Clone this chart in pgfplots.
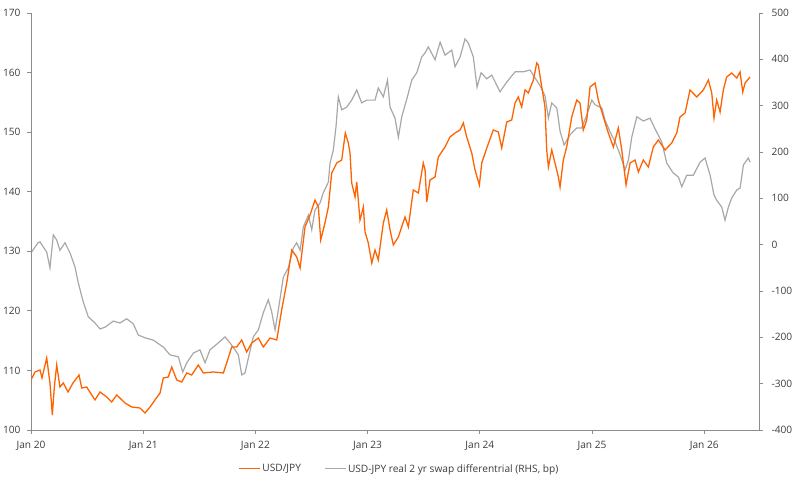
\documentclass[border=0pt]{standalone}
\usepackage{pgfplots}
\pgfplotsset{compat=1.18}
\usepackage{fontspec}
\setmainfont{Open Sans}
\usetikzlibrary{calc}
\definecolor{ingorange}{HTML}{FF6200}
\definecolor{inggray}{HTML}{A8A8A8}
\definecolor{axgray}{HTML}{8C8C8C}
\definecolor{txt}{HTML}{3C3C3C}
\begin{document}
\begin{tikzpicture}
\pgfplotsset{
  common/.style={
    scale only axis, width=728bp, height=417bp,
    xmin=2020, xmax=2026.488,
    axis line style={axgray, line width=0.8bp},
    tick style={axgray, line width=0.8bp},
    tick align=outside, major tick length=4bp,
    ticklabel style={font=\fontsize{10.2}{12}\selectfont, text=txt},
    /pgf/number format/assume math mode=true,
  }
}
% right axis: swap differential (drawn first)
\begin{axis}[common,
  ymin=-400, ymax=500,
  axis x line*=bottom, axis y line*=right,
  xtick={2020,2021,2022,2023,2024,2025,2026},
  xticklabels={Jan 20,Jan 21,Jan 22,Jan 23,Jan 24,Jan 25,Jan 26},
  ytick={-400,-300,-200,-100,0,100,200,300,400,500},
  yticklabels={-400,-300,-200,-100,0,100,200,300,400,500},
  yticklabel style={xshift=5bp},
  xticklabel style={yshift=-4bp},
]
\addplot[inggray, line width=1.2bp] coordinates {
(2020.000,-18) (2020.036,-5) (2020.062,4) (2020.080,6) (2020.110,-5) (2020.140,-16)
(2020.169,-50) (2020.199,21) (2020.229,10) (2020.258,-12) (2020.303,4) (2020.348,-18)
(2020.392,-48) (2020.422,-83) (2020.466,-124) (2020.511,-156) (2020.570,-169) (2020.615,-182)
(2020.660,-178) (2020.734,-165) (2020.793,-169) (2020.853,-160) (2020.912,-171) (2020.956,-195)
(2021.016,-201) (2021.090,-206) (2021.179,-221) (2021.239,-238) (2021.313,-242) (2021.352,-275)
(2021.388,-255) (2021.447,-234) (2021.506,-227) (2021.551,-255) (2021.595,-227) (2021.669,-212)
(2021.729,-199) (2021.774,-212) (2021.818,-227) (2021.848,-238) (2021.878,-281) (2021.907,-277)
(2021.937,-245) (2021.981,-199) (2022.026,-184) (2022.070,-147) (2022.115,-119) (2022.145,-145)
(2022.175,-184) (2022.204,-141) (2022.249,-70) (2022.293,-50) (2022.338,-7) (2022.368,4)
(2022.398,-12) (2022.427,38) (2022.472,64) (2022.502,32) (2022.531,75) (2022.576,90)
(2022.605,112) (2022.650,135) (2022.665,176) (2022.694,204) (2022.718,254) (2022.739,319)
(2022.769,291) (2022.814,297) (2022.858,312) (2022.903,334) (2022.947,306) (2022.992,312)
(2023.021,312) (2023.066,312) (2023.095,338) (2023.140,319) (2023.177,355) (2023.200,297)
(2023.244,273) (2023.274,232) (2023.304,276) (2023.349,314) (2023.393,355) (2023.438,371)
(2023.482,405) (2023.512,414) (2023.541,427) (2023.601,399) (2023.646,437) (2023.690,409)
(2023.750,420) (2023.779,384) (2023.824,405) (2023.868,444) (2023.898,435) (2023.942,405)
(2023.975,340) (2024.011,371) (2024.062,358) (2024.106,366) (2024.180,330) (2024.240,351)
(2024.314,373) (2024.388,373) (2024.447,377) (2024.492,360) (2024.537,343) (2024.581,321)
(2024.611,273) (2024.641,306) (2024.686,295) (2024.715,245) (2024.751,215) (2024.804,237)
(2024.864,252) (2024.908,252) (2024.953,280) (2024.998,312) (2025.027,302) (2025.087,295)
(2025.116,269) (2025.161,243) (2025.206,222) (2025.250,194) (2025.295,161) (2025.324,183)
(2025.354,232) (2025.399,276) (2025.457,267) (2025.517,273) (2025.561,250) (2025.621,222)
(2025.666,176) (2025.722,155) (2025.770,146) (2025.800,125) (2025.844,150) (2025.903,150)
(2025.963,178) (2026.007,187) (2026.052,150) (2026.087,107) (2026.111,96) (2026.156,81)
(2026.185,53) (2026.215,81) (2026.245,101) (2026.290,118) (2026.319,122) (2026.349,172)
(2026.393,187) (2026.408,178)
};
\coordinate (sw) at (rel axis cs:0,0);
\coordinate (ne) at (rel axis cs:1,1);
\end{axis}
% left axis: USD/JPY
\begin{axis}[common,
  ymin=100, ymax=170,
  axis x line=none, axis y line*=left,
  ytick={100,110,120,130,140,150,160,170},
  yticklabel style={xshift=-3bp},
  legend style={at={(0.506,-0.0935)}, anchor=center, draw=none, fill=none,
    font=\fontsize{10.2}{12}\selectfont, text=txt, legend columns=2,
    /tikz/every even column/.append style={column sep=22bp},
    inner sep=0pt, nodes={inner sep=1.5bp}},
  legend cell align=left,
  legend image code/.code={\draw[#1, line width=1bp] (0bp,0bp) -- (21bp,0bp);},
]
\addplot[ingorange, line width=1.3bp] coordinates {
(2020.000,108.39) (2020.036,109.74) (2020.080,110.07) (2020.098,108.73) (2020.140,112.09)
(2020.169,107.89) (2020.190,102.52) (2020.208,107.22) (2020.229,110.91) (2020.258,107.22)
(2020.288,107.89) (2020.330,106.38) (2020.374,107.89) (2020.428,109.23) (2020.452,107.05)
(2020.496,107.22) (2020.570,105.04) (2020.615,106.38) (2020.675,105.54) (2020.719,104.70)
(2020.764,105.88) (2020.838,104.53) (2020.898,103.86) (2020.971,103.69) (2021.016,102.85)
(2021.061,103.86) (2021.105,105.04) (2021.150,106.21) (2021.179,108.73) (2021.224,108.90)
(2021.254,110.58) (2021.299,108.39) (2021.343,108.06) (2021.388,109.57) (2021.432,109.23)
(2021.491,110.91) (2021.536,109.57) (2021.625,109.74) (2021.714,109.57) (2021.744,111.25)
(2021.789,113.93) (2021.833,113.93) (2021.878,115.11) (2021.922,113.09) (2021.967,114.60)
(2022.026,115.44) (2022.070,113.93) (2022.130,115.44) (2022.190,115.11) (2022.234,120.14)
(2022.279,124.68) (2022.324,130.22) (2022.368,129.04) (2022.398,127.19) (2022.442,134.08)
(2022.487,136.09) (2022.531,138.61) (2022.561,137.43) (2022.582,131.90) (2022.620,134.75)
(2022.650,137.43) (2022.680,143.14) (2022.725,144.82) (2022.769,145.32) (2022.801,149.86)
(2022.828,148.18) (2022.843,146.50) (2022.858,141.46) (2022.888,139.11) (2022.903,141.63)
(2022.932,135.25) (2022.962,137.43) (2022.977,133.24) (2023.006,131.39) (2023.037,128.03)
(2023.066,130.22) (2023.095,128.54) (2023.140,134.75) (2023.170,136.93) (2023.200,133.57)
(2023.229,131.06) (2023.274,132.40) (2023.333,135.76) (2023.363,134.08) (2023.407,140.29)
(2023.452,139.79) (2023.496,144.82) (2023.512,143.65) (2023.527,138.27) (2023.556,141.97)
(2023.601,142.47) (2023.630,145.83) (2023.690,147.51) (2023.734,149.19) (2023.779,149.86)
(2023.824,150.36) (2023.853,151.54) (2023.883,149.19) (2023.928,146.50) (2023.957,143.65)
(2023.996,141.13) (2024.017,144.82) (2024.062,147.34) (2024.120,150.36) (2024.165,150.03)
(2024.195,147.34) (2024.240,151.70) (2024.284,152.04) (2024.314,154.89) (2024.343,155.90)
(2024.373,154.22) (2024.403,157.08) (2024.432,156.57) (2024.477,158.75) (2024.507,161.61)
(2024.521,161.27) (2024.552,157.58) (2024.581,154.22) (2024.596,147.00) (2024.611,144.15)
(2024.641,147.00) (2024.670,144.82) (2024.700,142.47) (2024.715,140.79) (2024.744,145.32)
(2024.774,147.51) (2024.819,152.54) (2024.864,155.39) (2024.893,154.88) (2024.922,150.36)
(2024.953,152.04) (2024.982,157.58) (2025.027,158.25) (2025.056,155.39) (2025.101,152.54)
(2025.145,149.86) (2025.190,147.51) (2025.234,150.70) (2025.265,147.00) (2025.303,141.13)
(2025.339,144.82) (2025.383,145.32) (2025.413,143.31) (2025.457,145.32) (2025.502,144.15)
(2025.546,147.51) (2025.591,148.68) (2025.651,147.00) (2025.710,148.18) (2025.755,149.86)
(2025.784,152.54) (2025.829,153.21) (2025.873,157.08) (2025.933,155.90) (2025.992,157.08)
(2026.037,158.75) (2026.067,156.57) (2026.087,152.37) (2026.111,155.39) (2026.141,153.38)
(2026.170,157.08) (2026.200,159.26) (2026.245,159.93) (2026.290,159.09) (2026.319,160.10)
(2026.343,156.74) (2026.364,158.25) (2026.408,159.26)
};
\addlegendentry{USD/JPY}
\addlegendimage{inggray, line width=1bp}
\addlegendentry{USD-JPY real 2 yr swap differentrial (RHS, bp)}
\end{axis}
\pgfresetboundingbox
\path ($(sw)+(-31bp,-49bp)$) rectangle ($(ne)+(41bp,13bp)$);
\end{tikzpicture}
\end{document}
